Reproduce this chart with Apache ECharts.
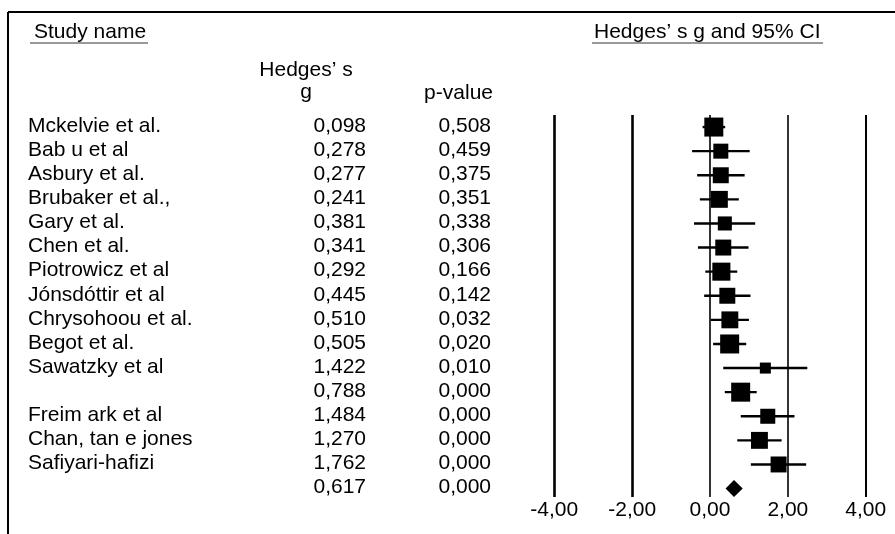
<!DOCTYPE html>
<html>
<head>
<meta charset="utf-8">
<script src="https://cdn.jsdelivr.net/npm/echarts@6/dist/echarts.min.js"></script>
<style>
html,body{margin:0;padding:0;background:#fff;}
#chart{width:895px;height:534px;}
</style>
</head>
<body>
<div id="chart"></div>
<script>
// ---- data ----
const studyNames = ['Mckelvie et al.', 'Bab u et al', 'Asbury et al.', 'Brubaker et al.,', 'Gary et al.', 'Chen et al.', 'Piotrowicz et al', 'Jónsdóttir et al', 'Chrysohoou et al.', 'Begot et al.', 'Sawatzky et al', '', 'Freim ark et al', 'Chan, tan e jones', 'Safiyari-hafizi', ''];
const hedgesG = [0.098, 0.278, 0.277, 0.241, 0.381, 0.341, 0.292, 0.445, 0.510, 0.505, 1.422, 0.788, 1.484, 1.270, 1.762, 0.617];
const pValues = [0.508, 0.459, 0.375, 0.351, 0.338, 0.306, 0.166, 0.142, 0.032, 0.020, 0.010, 0.000, 0.000, 0.000, 0.000, 0.000];
const ciLower = [-0.19, -0.46, -0.33, -0.26, -0.41, -0.31, -0.12, -0.15, 0.02, 0.08, 0.34, 0.38, 0.79, 0.70, 1.05, 0.40];
const ciUpper = [0.39, 1.02, 0.89, 0.74, 1.16, 0.99, 0.70, 1.04, 1.00, 0.93, 2.50, 1.20, 2.17, 1.84, 2.47, 0.84];
const relWeight = [1.00, 0.79, 0.84, 0.89, 0.74, 0.84, 0.95, 0.84, 0.89, 1.00, 0.58, 1.00, 0.79, 0.89, 0.84, 1.00];
const isSummary = [false, false, false, false, false, false, false, false, false, false, false, false, false, false, false, true];
const axisTicks = [-4, -2, 0, 2, 4];

// ---- helpers ----
const FONT = '"Liberation Sans", Arial, Helvetica, sans-serif';
const fmt = (v, d) => v.toFixed(d).replace('.', ',');
const rows = hedgesG.map((g, i) => [g, i, ciLower[i], ciUpper[i], relWeight[i], isSummary[i] ? 1 : 0]);

const chart = echarts.init(document.getElementById('chart'));

const markData = axisTicks.map(t => ({
  xAxis: t,
  lineStyle: { color: '#000', width: t < 0 ? 2.6 : (t === 4 ? 2 : 1.6), type: 'solid' }
}));

chart.setOption({
  animation: false,
  backgroundColor: '#fff',
  grid: { left: 554.3, right: 29.3, top: 115, bottom: 37, containLabel: false },
  xAxis: {
    type: 'value', min: -4, max: 4, interval: 2,
    axisLine: { show: false }, axisTick: { show: false }, splitLine: { show: false },
    axisLabel: { margin: 3, color: '#000', fontSize: 21, fontFamily: FONT,
      formatter: v => fmt(v, 2) }
  },
  yAxis: { type: 'value', inverse: true, min: -0.5, max: 15.35, show: false },
  graphic: [
    { type: 'line', shape: { x1: 8, y1: 12, x2: 895, y2: 12 }, style: { stroke: '#000', lineWidth: 2 } },
    { type: 'line', shape: { x1: 8, y1: 12, x2: 8, y2: 534 }, style: { stroke: '#000', lineWidth: 2 } },
    { type: 'text', left: 34, top: 22, style: { text: 'Study name', font: '21px ' + FONT, fill: '#000' } },
    { type: 'line', shape: { x1: 30, y1: 43, x2: 148, y2: 43 }, style: { stroke: '#777', lineWidth: 1.5 } },
    { type: 'text', left: 594, top: 22, style: { text: 'Hedges’ s g and 95% CI', font: '21px ' + FONT, fill: '#000' } },
    { type: 'line', shape: { x1: 592, y1: 43, x2: 823, y2: 43 }, style: { stroke: '#777', lineWidth: 1.5 } },
    { type: 'text', x: 306, y: 70, style: { text: 'Hedges’ s', font: '21px ' + FONT, fill: '#000', align: 'center', verticalAlign: 'middle' } },
    { type: 'text', x: 306, y: 92, style: { text: 'g', font: '21px ' + FONT, fill: '#000', align: 'center', verticalAlign: 'middle' } },
    { type: 'text', x: 493, y: 93, style: { text: 'p-value', font: '21px ' + FONT, fill: '#000', align: 'right', verticalAlign: 'middle' } }
  ],
  series: [
    {
      type: 'custom',
      name: 'forest',
      data: rows,
      encode: { x: 0, y: 1 },
      clip: false,
      markLine: { silent: true, symbol: 'none', label: { show: false }, data: markData },
      renderItem: (params, api) => {
        const g = api.value(0), i = api.value(1), lo = api.value(2), hi = api.value(3), w = api.value(4), sum = api.value(5);
        const c = api.coord([g, i]);
        const xl = api.coord([lo, i])[0];
        const xh = api.coord([hi, i])[0];
        if (sum) {
          const h = 17;
          return { type: 'polygon', shape: { points: [[xl, c[1]], [c[0], c[1] - h / 2], [xh, c[1]], [c[0], c[1] + h / 2]] },
            style: { fill: '#000' } };
        }
        const s = 19 * w;
        return { type: 'group', children: [
          { type: 'line', shape: { x1: xl, y1: c[1], x2: xh, y2: c[1] }, style: { stroke: '#000', lineWidth: 2.4 } },
          { type: 'rect', shape: { x: c[0] - s / 2, y: c[1] - s / 2, width: s, height: s }, style: { fill: '#000' } }
        ] };
      }
    },
    {
      type: 'custom',
      name: 'table',
      data: rows,
      encode: { x: 0, y: 1 },
      clip: false,
      renderItem: (params, api) => {
        const idx = params.dataIndex;
        const i = api.value(1);
        const y = api.coord([0, i])[1] - 1;
        const base = { font: '21px ' + FONT, fill: '#000', verticalAlign: 'middle' };
        return { type: 'group', children: [
          { type: 'text', x: 28, y: y, style: Object.assign({ text: studyNames[idx], align: 'left' }, base) },
          { type: 'text', x: 366, y: y, style: Object.assign({ text: fmt(hedgesG[idx], 3), align: 'right' }, base) },
          { type: 'text', x: 491, y: y, style: Object.assign({ text: fmt(pValues[idx], 3), align: 'right' }, base) }
        ] };
      }
    }
  ]
});
</script>
</body>
</html>
